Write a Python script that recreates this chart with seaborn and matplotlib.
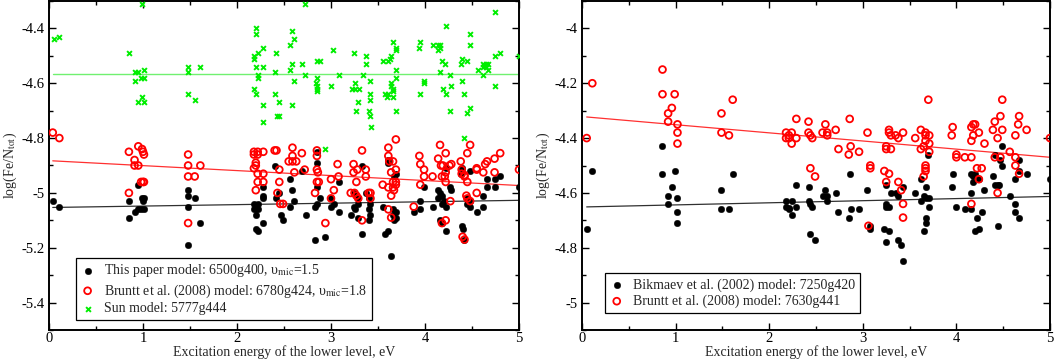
import numpy as np
import pandas as pd
import matplotlib
matplotlib.use("Agg")
import matplotlib.pyplot as plt
from matplotlib.ticker import MultipleLocator, FormatStrFormatter
import seaborn as sns

# ==========================================
# Data
# ==========================================

# --- left panel: this paper (black), Bruntt 2008 (red), Sun (green) ---
left_black_x = [0.04, 0.11, 0.85, 0.85, 0.91, 0.95, 0.98, 0.95, 0.99, 1.01, 1.00, 1.01,
                1.48, 1.48, 1.48, 1.55, 1.61, 1.48, 2.18, 2.22, 2.20, 2.22, 2.18, 2.20,
                2.20, 2.22, 2.28, 2.28, 2.28, 2.28, 2.40, 2.42, 2.45, 2.47, 2.49, 2.56,
                2.59, 2.61, 2.56, 2.69, 2.73, 2.83, 2.94, 2.85, 2.85, 2.85, 2.85, 2.88,
                2.83, 3.00, 3.03, 3.00, 3.08, 3.08, 3.24, 3.24, 3.26, 3.21, 3.29, 3.29,
                3.29, 3.33, 3.37, 3.40, 3.42, 3.40, 3.42, 3.40, 3.33, 3.61, 3.61, 3.55,
                3.57, 3.61, 3.64, 3.66, 3.69, 3.66, 3.69, 3.67, 3.69, 3.67, 3.88, 3.95,
                3.99, 3.95, 4.08, 4.14, 4.16, 4.18, 4.14, 4.22, 4.18, 4.20, 4.22, 4.18,
                4.16, 4.22, 4.27, 4.28, 4.38, 4.39, 4.48, 4.39, 4.40, 4.42, 4.45, 4.48,
                4.48, 4.45, 4.55, 4.62, 4.62, 4.66, 4.66, 4.74, 4.74, 4.80, 5.00]
left_black_y = [-5.03, -5.05, -5.03, -5.09, -5.07, -5.06, -5.06, -4.97, -5.02, -5.02, -5.03, -5.06,
                -4.99, -5.01, -5.05, -5.02, -5.11, -5.19, -5.04, -5.04, -5.06, -5.06, -5.06, -5.08,
                -5.13, -5.14, -4.98, -5.01, -5.02, -5.11, -4.90, -5.02, -5.00, -5.08, -5.10, -4.95,
                -4.99, -5.03, -5.05, -4.92, -5.08, -5.17, -5.16, -4.85, -4.89, -4.98, -5.04, -5.02,
                -5.05, -5.02, -5.04, -5.05, -5.07, -4.96, -5.00, -5.05, -5.06, -5.08, -5.09, -5.04,
                -5.02, -5.15, -5.00, -5.02, -5.04, -5.06, -5.08, -5.10, -4.90, -4.88, -4.89, -5.05,
                -5.15, -5.14, -5.23, -5.06, -5.07, -5.08, -5.09, -5.10, -4.93, -4.94, -5.07, -5.03,
                -4.98, -5.06, -5.05, -4.99, -5.00, -5.01, -5.02, -5.05, -5.04, -5.03, -5.14, -5.11,
                -5.10, -4.91, -4.98, -4.99, -4.93, -4.91, -4.92, -5.12, -5.13, -5.17, -5.04, -5.05,
                -5.03, -5.02, -5.07, -5.05, -5.01, -4.95, -4.98, -4.98, -4.95, -4.94, -4.98]

left_red_x = [0.04, 0.11, 0.85, 0.91, 0.91, 0.95, 0.95, 0.99, 1.00, 1.01, 1.48, 1.48,
              1.61, 1.48, 1.55, 0.85, 0.98, 1.00, 1.01, 1.48, 2.18, 2.22, 2.28, 2.22,
              2.18, 2.20, 2.20, 2.18, 2.22, 2.28, 2.20, 2.22, 2.28, 2.40, 2.42, 2.59,
              2.59, 2.55, 2.59, 2.63, 2.69, 2.85, 2.85, 3.07, 3.33, 3.24, 3.61, 3.61,
              3.69, 3.62, 3.66, 3.94, 3.95, 4.16, 4.14, 4.17, 4.19, 4.22, 4.28, 4.38,
              4.45, 4.48, 4.55, 4.66, 4.64, 4.74, 4.80, 5.00, 2.45, 2.61, 2.72, 2.85,
              2.86, 3.24, 3.28, 3.37, 3.64, 3.69, 3.99, 4.39, 4.62, 4.74, 4.42, 4.22,
              4.26, 2.45, 2.43, 2.46, 2.49, 2.85, 2.87, 2.83, 2.94, 3.00, 3.00, 3.03,
              3.08, 3.21, 3.25, 3.27, 3.27, 3.29, 3.37, 3.40, 3.42, 3.42, 3.33, 3.55,
              3.61, 3.61, 3.64, 3.66, 3.69, 3.69, 3.66, 3.67, 3.64, 3.88, 3.99, 3.95,
              4.08, 4.18, 4.21, 4.22, 4.18, 4.22, 4.27, 4.39, 4.42, 4.45, 4.40, 4.42,
              4.45, 4.48, 4.44, 4.55, 4.55]
left_red_y = [-4.78, -4.80, -4.85, -4.88, -4.90, -4.90, -4.83, -4.84, -4.85, -4.86, -4.86, -4.90,
              -4.90, -4.94, -4.94, -5.00, -4.96, -4.96, -4.96, -5.11, -4.85, -4.86, -4.85, -4.85,
              -4.86, -4.89, -4.90, -4.91, -4.93, -4.93, -4.99, -4.96, -4.96, -4.845, -4.845, -4.835,
              -4.865, -4.885, -4.885, -4.885, -4.855, -4.845, -4.865, -4.895, -4.845, -4.895, -4.835, -4.865,
              -4.805, -4.885, -4.885, -4.865, -4.895, -4.825, -4.875, -4.90, -4.90, -4.855, -4.895, -4.885,
              -4.855, -4.825, -4.915, -4.885, -4.895, -4.875, -4.855, -4.915, -4.915, -4.925, -4.915, -4.915,
              -4.925, -4.925, -4.915, -4.915, -4.925, -4.915, -4.915, -4.915, -4.925, -4.925, -4.935, -4.925,
              -4.90, -4.96, -5.00, -5.04, -5.04, -4.96, -4.96, -5.00, -5.11, -4.95, -5.02, -4.99,
              -4.94, -5.00, -5.00, -4.96, -5.01, -5.02, -4.94, -5.00, -5.00, -5.02, -5.10, -4.97,
              -4.98, -5.06, -5.09, -4.96, -4.96, -4.97, -4.98, -4.99, -5.01, -5.05, -4.94, -4.97,
              -4.94, -4.94, -4.94, -4.96, -5.11, -5.10, -5.03, -4.93, -4.94, -4.96, -5.16, -5.17,
              -5.02, -5.03, -5.01, -5.00, -4.91]

left_green_x = [0.05, 0.11, 0.85, 0.91, 0.95, 0.91, 0.98, 1.01, 1.01, 0.99, 0.95, 1.01,
                0.99, 1.48, 1.48, 1.61, 1.48, 1.55, 2.20, 2.20, 2.18, 2.18, 2.22, 2.28,
                2.20, 2.28, 2.22, 2.22, 2.18, 2.20, 2.28, 2.28, 2.72, 2.42, 2.40, 2.40,
                2.45, 2.43, 2.45, 2.56, 2.59, 2.61, 2.56, 2.59, 2.61, 2.59, 2.69, 2.72,
                2.85, 2.88, 2.85, 2.84, 2.85, 2.85, 2.85, 3.02, 3.00, 3.08, 3.24, 3.25,
                3.22, 3.26, 3.30, 3.29, 3.27, 3.34, 3.37, 3.37, 3.42, 3.42, 3.42, 3.40,
                3.42, 3.43, 3.55, 3.61, 3.64, 3.63, 3.66, 3.69, 3.69, 3.69, 3.69, 3.64,
                3.64, 3.66, 3.66, 3.57, 3.61, 3.60, 3.66, 3.69, 2.94, 3.94, 3.95, 3.95,
                3.99, 3.99, 4.08, 4.14, 4.16, 4.14, 4.16, 4.22, 4.18, 4.21, 4.16, 4.27,
                4.19, 4.28, 4.22, 4.27, 4.38, 4.39, 4.45, 4.39, 4.42, 4.48, 4.48, 4.45,
                4.48, 4.42, 4.56, 4.62, 4.65, 4.67, 4.62, 4.65, 4.67, 4.62, 4.74, 4.74,
                4.80, 4.74, 5.00]
left_green_y = [-4.44, -4.43, -4.49, -4.56, -4.56, -4.59, -4.58, -4.58, -4.55, -4.65, -4.67, -4.67,
                -4.31, -4.54, -4.56, -4.54, -4.64, -4.66, -4.40, -4.42, -4.50, -4.51, -4.49, -4.47,
                -4.54, -4.54, -4.57, -4.58, -4.62, -4.64, -4.68, -4.74, -4.31, -4.49, -4.56, -4.64,
                -4.67, -4.72, -4.72, -4.46, -4.41, -4.44, -4.55, -4.53, -4.59, -4.68, -4.53, -4.57,
                -4.52, -4.52, -4.58, -4.60, -4.61, -4.62, -4.63, -4.48, -4.61, -4.57, -4.49, -4.60,
                -4.62, -4.62, -4.62, -4.67, -4.70, -4.57, -4.50, -4.53, -4.59, -4.64, -4.66, -4.70,
                -4.72, -4.76, -4.52, -4.52, -4.50, -4.51, -4.45, -4.47, -4.48, -4.55, -4.58, -4.60,
                -4.61, -4.62, -4.63, -4.64, -4.64, -4.65, -4.65, -4.70, -4.84, -4.47, -4.45, -4.64,
                -4.59, -4.60, -4.46, -4.46, -4.46, -4.48, -4.47, -4.39, -4.52, -4.53, -4.56, -4.57,
                -4.62, -4.61, -4.64, -4.70, -4.53, -4.51, -4.52, -4.59, -4.64, -4.42, -4.46, -4.71,
                -4.69, -4.80, -4.55, -4.53, -4.53, -4.53, -4.54, -4.54, -4.55, -4.57, -4.50, -4.61,
                -4.49, -4.34, -4.50]

# linear fits drawn in the left panel (end points)
left_fit_x = [0.04, 5.0]
left_black_fit = [-5.053, -5.027]
left_red_fit = [-4.883, -4.973]
left_green_fit = [-4.565, -4.565]

# --- right panel: Bikmaev 2002 (black), Bruntt 2008 (red) ---
right_black_x = [0.05, 0.11, 0.86, 0.92, 0.92, 0.96, 0.99, 1.02, 1.02, 1.02, 1.49, 1.49,
                 1.57, 1.61, 2.18, 2.24, 2.18, 2.21, 2.21, 2.24, 2.29, 2.29, 0.86, 2.42,
                 2.42, 2.44, 2.46, 2.44, 2.49, 2.57, 2.62, 2.60, 2.62, 2.71, 2.74, 2.86,
                 2.85, 2.87, 2.96, 3.05, 3.08, 3.08, 3.23, 3.25, 3.28, 3.25, 3.25, 3.28,
                 3.30, 3.25, 3.35, 3.38, 3.43, 3.38, 3.41, 3.43, 3.56, 3.62, 3.62, 3.65,
                 3.67, 3.67, 3.71, 3.71, 3.67, 3.67, 3.65, 3.70, 3.95, 3.96, 4.00, 4.09,
                 4.16, 4.18, 4.18, 4.16, 4.16, 4.20, 4.22, 4.20, 4.24, 4.27, 4.30, 4.39,
                 4.41, 4.44, 4.45, 4.44, 4.57, 4.63, 4.63, 4.67, 4.63, 4.67, 4.75, 5.00,
                 4.24, 4.41, 4.47, 4.49, 4.49, 4.67]
right_black_y = [-4.73, -4.52, -4.53, -4.61, -4.64, -4.58, -4.52, -4.62, -4.67, -4.71, -4.59, -4.66,
                 -4.66, -4.53, -4.63, -4.63, -4.65, -4.655, -4.66, -4.68, -4.57, -4.65, -4.43, -4.58,
                 -4.63, -4.64, -4.65, -4.75, -4.77, -4.61, -4.61, -4.59, -4.63, -4.60, -4.67, -4.53,
                 -4.69, -4.66, -4.66, -4.59, -4.72, -4.73, -4.73, -4.78, -4.74, -4.64, -4.65, -4.65,
                 -4.60, -4.57, -4.60, -4.61, -4.58, -4.77, -4.79, -4.85, -4.60, -4.55, -4.63, -4.61,
                 -4.58, -4.62, -4.62, -4.65, -4.69, -4.71, -4.74, -4.46, -4.58, -4.53, -4.65, -4.66,
                 -4.53, -4.54, -4.56, -4.60, -4.66, -4.53, -4.69, -4.74, -4.73, -4.67, -4.59, -4.54,
                 -4.57, -4.57, -4.57, -4.72, -4.61, -4.64, -4.67, -4.69, -4.55, -4.52, -4.53, -4.55,
                 -4.55, -4.46, -4.48, -4.50, -4.43, -4.48]

right_red_x = [0.05, 0.11, 0.86, 0.86, 0.99, 0.96, 0.92, 0.92, 1.02, 1.02, 1.02, 1.49,
               1.49, 1.57, 1.61, 2.18, 2.21, 2.24, 2.18, 2.21, 2.24, 2.29, 2.29, 2.42,
               2.42, 2.44, 2.46, 2.44, 2.49, 2.57, 2.60, 2.62, 2.62, 2.71, 2.74, 2.86,
               2.87, 2.85, 2.96, 3.05, 3.08, 3.08, 3.23, 3.28, 3.25, 3.25, 3.30, 3.28,
               3.28, 3.30, 3.35, 3.38, 3.43, 3.56, 3.62, 3.62, 3.65, 3.67, 3.67, 3.67,
               3.71, 3.71, 3.71, 3.70, 3.67, 3.67, 3.67, 3.65, 3.95, 3.96, 4.00, 4.00,
               4.09, 4.16, 4.16, 4.18, 4.16, 4.18, 4.20, 4.24, 4.22, 4.27, 4.24, 4.30,
               4.49, 4.47, 4.41, 4.39, 4.49, 4.44, 4.41, 4.47, 4.57, 4.63, 4.66, 4.67,
               4.75, 4.63, 4.63, 4.67, 5.00, 3.25, 3.38, 3.41, 3.43, 3.43, 3.06, 4.16,
               4.44]
right_red_y = [-4.40, -4.20, -4.15, -4.24, -4.24, -4.29, -4.31, -4.34, -4.35, -4.38, -4.42, -4.31,
               -4.38, -4.39, -4.26, -4.38, -4.39, -4.38, -4.40, -4.40, -4.42, -4.40, -4.33, -4.34,
               -4.38, -4.39, -4.40, -4.51, -4.54, -4.38, -4.35, -4.38, -4.39, -4.37, -4.44, -4.33,
               -4.43, -4.46, -4.45, -4.38, -4.50, -4.51, -4.52, -4.53, -4.43, -4.44, -4.44, -4.37,
               -4.38, -4.39, -4.39, -4.40, -4.38, -4.40, -4.37, -4.44, -4.43, -4.41, -4.39, -4.38,
               -4.39, -4.42, -4.45, -4.26, -4.50, -4.51, -4.52, -4.54, -4.39, -4.36, -4.46, -4.47,
               -4.47, -4.47, -4.41, -4.39, -4.36, -4.35, -4.35, -4.38, -4.51, -4.51, -4.55, -4.42,
               -4.26, -4.32, -4.34, -4.37, -4.37, -4.40, -4.47, -4.47, -4.45, -4.39, -4.35, -4.32,
               -4.37, -4.47, -4.50, -4.53, -4.40, -4.56, -4.56, -4.59, -4.64, -4.69, -4.72, -4.64,
               -4.60]

right_fit_x = [0.05, 5.0]
right_black_fit = [-4.651, -4.613]
right_red_fit = [-4.323, -4.470]

left_labels = ["This paper model: 6500g400, υ$_{\\rm mic}$=1.5",
               "Bruntt et al. (2008) model: 6780g424, υ$_{\\rm mic}$=1.8",
               "Sun model: 5777g444"]
right_labels = ["Bikmaev et al. (2002) model: 7250g420",
                "Bruntt et al. (2008) model: 7630g441"]

x_label = "Excitation energy of the lower level, eV"
y_label = r"log(Fe/N$_{\rm tot}$)"

# ==========================================
# Styling
# ==========================================
sns.set_style("ticks")
plt.rcParams.update({
    "font.family": ["Liberation Serif", "DejaVu Serif"],
    "mathtext.fontset": "stix",
    "axes.unicode_minus": False,
    "font.size": 10,
    "axes.linewidth": 1.4,
    "xtick.direction": "in",
    "ytick.direction": "in",
    "xtick.top": True,
    "ytick.right": True,
    "xtick.major.size": 5,
    "ytick.major.size": 5,
    "xtick.minor.size": 3,
    "ytick.minor.size": 3,
    "xtick.major.width": 1.0,
    "ytick.major.width": 1.0,
    "xtick.minor.width": 1.0,
    "ytick.minor.width": 1.0,
    "xtick.color": "black",
    "ytick.color": "black",
    "axes.edgecolor": "black",
})

RED = "#ff0000"
GREEN = "#00ee00"

fig = plt.figure(figsize=(10.55, 3.6), dpi=100)
ax_l = fig.add_axes([49 / 1055, 30 / 360, 470 / 1055, 329 / 360])
ax_r = fig.add_axes([582 / 1055, 30 / 360, 468 / 1055, 329 / 360])


def black_dots(ax, x, y, label):
    sns.scatterplot(x=x, y=y, ax=ax, marker="o", s=22, color="black",
                    edgecolor="black", linewidth=0.3, label=label, zorder=3)


def red_rings(ax, x, y, label):
    sns.scatterplot(x=x, y=y, ax=ax, marker="o", s=24, facecolors="none",
                    edgecolor=RED, linewidth=1.3, label=label, zorder=4)


# ---- left panel ----
black_dots(ax_l, left_black_x, left_black_y, left_labels[0])
red_rings(ax_l, left_red_x, left_red_y, left_labels[1])
sns.scatterplot(x=left_green_x, y=left_green_y, ax=ax_l, marker="x", s=12,
                color=GREEN, linewidth=1.4, label=left_labels[2], zorder=3)
ax_l.plot(left_fit_x, left_green_fit, color="#70f070", lw=1.0, zorder=2)
ax_l.plot(left_fit_x, left_red_fit, color="#ff3030", lw=0.9, zorder=2)
ax_l.plot(left_fit_x, left_black_fit, color="#303030", lw=0.9, zorder=2)

# ---- right panel ----
black_dots(ax_r, right_black_x, right_black_y, right_labels[0])
red_rings(ax_r, right_red_x, right_red_y, right_labels[1])
ax_r.plot(right_fit_x, right_red_fit, color="#ff3030", lw=0.9, zorder=2)
ax_r.plot(right_fit_x, right_black_fit, color="#303030", lw=0.9, zorder=2)

for ax, ylim, anchor in [(ax_l, (-5.5, -4.3), (0.057, 0.22)),
                         (ax_r, (-5.1, -3.9), (0.049, 0.172))]:
    ax.set_xlim(0, 5)
    ax.set_ylim(*ylim)
    ax.xaxis.set_major_locator(MultipleLocator(1))
    ax.xaxis.set_minor_locator(MultipleLocator(0.5))
    ax.yaxis.set_major_locator(MultipleLocator(0.2))
    ax.yaxis.set_minor_locator(MultipleLocator(0.1))
    ax.yaxis.set_major_formatter(FormatStrFormatter("%g"))
    ax.xaxis.set_major_formatter(FormatStrFormatter("%g"))
    ax.tick_params(which="both", labelsize=10.5)
    ax.tick_params(axis="x", pad=1.5)
    ax.tick_params(axis="y", pad=3)
    ax.set_xlabel(x_label, fontsize=10, labelpad=0)
    ax.set_ylabel(y_label, fontsize=10, labelpad=2)
    for sp in ax.spines.values():
        sp.set_visible(True)
    leg = ax.legend(loc="upper left", bbox_to_anchor=anchor, frameon=True,
                    fancybox=False, framealpha=1, edgecolor="black",
                    fontsize=10, handlelength=1.0, handletextpad=0.7,
                    borderpad=0.35, labelspacing=0.2, borderaxespad=0)
    leg.get_frame().set_linewidth(0.9)

fig.savefig("out.png", dpi=100)
